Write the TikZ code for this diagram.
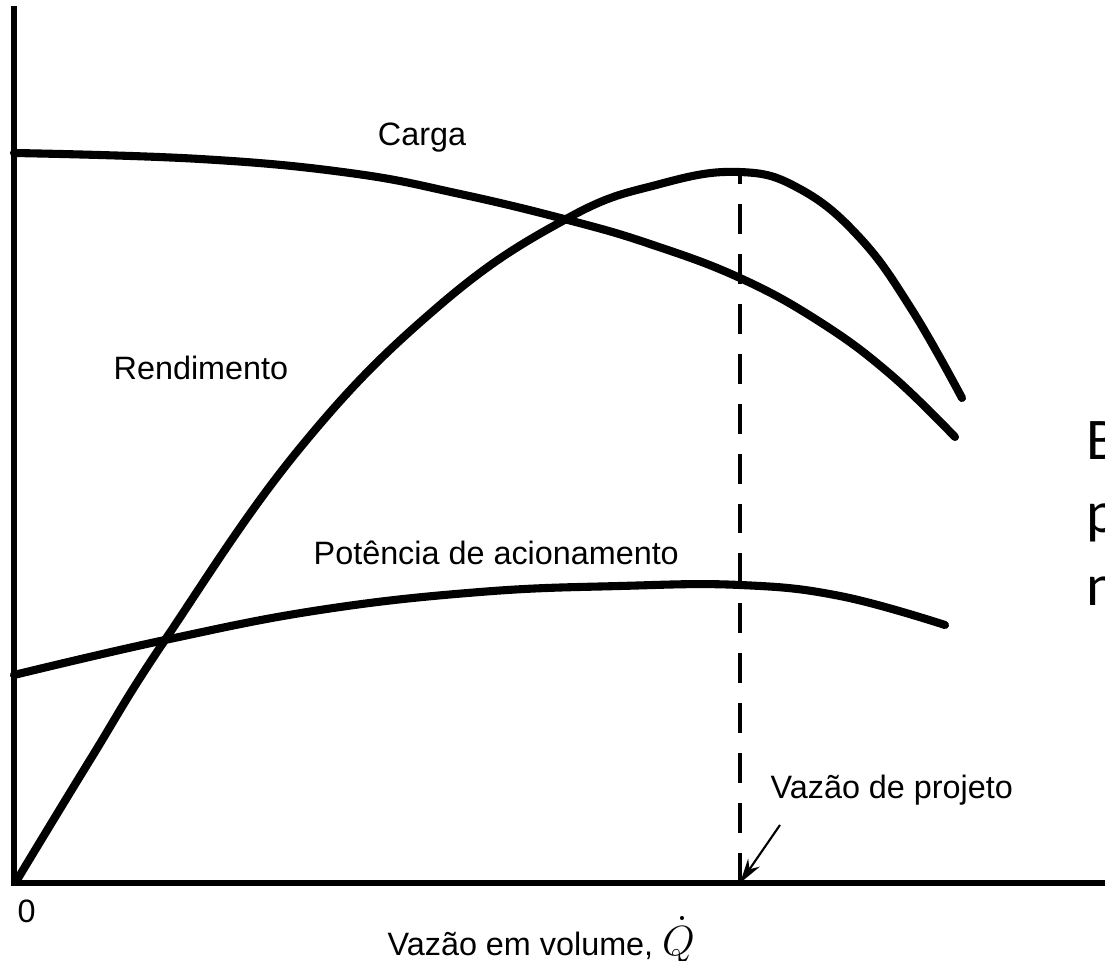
\documentclass[tikz,border=0pt]{standalone}
\usepackage{fontspec}
\setmainfont{Liberation Sans}
\newfontfamily\sidefont{Carlito}
\usetikzlibrary{arrows.meta}

\begin{document}
\begin{tikzpicture}[x=0.01cm,y=-0.01cm,font=\fontsize{9.2}{11}\selectfont]
\tikzstyle{curve}=[line width=2.3pt,black,line cap=round]
\tikzstyle{axis}=[line width=1.7pt,black]
\tikzstyle{lbl}=[inner sep=0pt,anchor=west]
\tikzstyle{side}=[inner sep=0pt,anchor=base west,font=\sidefont\fontsize{16.8}{20}\selectfont]
\clip (0,0) rectangle (1105,961);
\fill[white] (0,0) rectangle (1105,961);

% axes
\coordinate (top) at (14,6);
\coordinate (O) at (14,883);
\coordinate (xend) at (1105,883);
\draw[axis] (top) -- (O) -- (xend);

% curves
\draw[curve] plot[smooth,tension=0.7] coordinates {(14,153) (200,159) (350,173) (460,194) (568,220) (650,244) (740,278) (820,322) (890,374) (955,437)};
\draw[curve] plot[smooth,tension=0.7] coordinates {(17,880) (90,760) (165,640) (300,448) (440,305) (568,218) (660,184) (739,172) (800,189) (860,238) (912,310) (962,398)};
\draw[curve] plot[smooth,tension=0.7] coordinates {(14,675) (165,640) (320,610) (480,592) (620,586) (740,585) (840,596) (945,625)};

% design flow
\coordinate (peak) at (740,172);
\coordinate (dq) at (740,883);
\coordinate (tail) at (780,825);
\draw[line width=0.9pt,dash pattern=on 8.5pt off 5.7pt] (dq) -- (peak);
\draw[line width=0.6pt,-{Stealth[length=7pt,width=4pt]}] (tail) -- (dq);

\node[inner sep=0pt] (carga) at (422,138) {Carga};
\node[lbl] (rend) at (113,368) {Rendimento};
\node[lbl] (pot) at (313,553) {Potência de acionamento};
\node[lbl] (proj) at (770,790) {Vazão de projeto};
\node[lbl] (zero) at (17,911) {0};
\node[lbl] (xlab) at (387,940) {Vazão em volume, {\fontsize{12}{12}\selectfont$\dot{Q}$}};

\node[side] (s1) at (1086,460) {B};
\node[side] (s2) at (1086,533) {p};
\node[side] (s3) at (1086,606) {n};
\end{tikzpicture}
\end{document}
